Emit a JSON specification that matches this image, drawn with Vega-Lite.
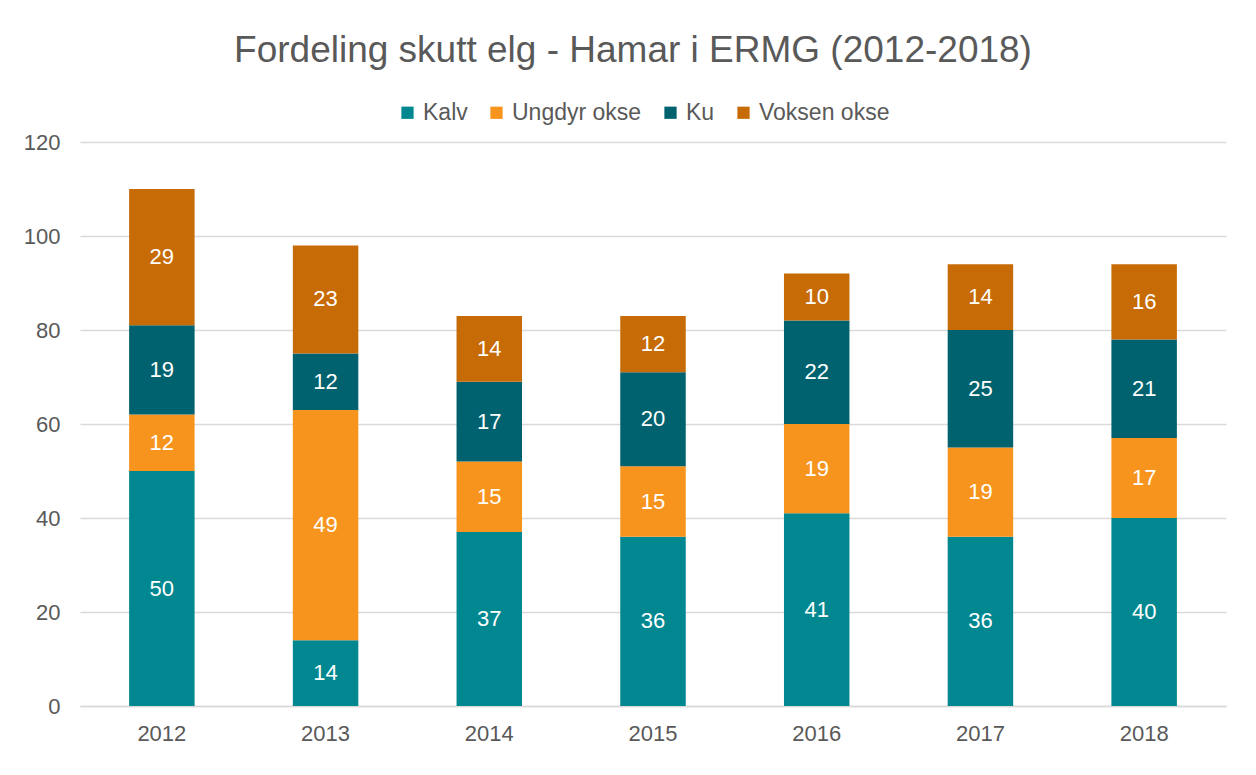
{
  "$schema": "https://vega.github.io/schema/vega-lite/v6.json",
  "autosize": "none",
  "width": 1146,
  "height": 564,
  "padding": {"left": 80, "top": 142, "right": 30, "bottom": 69},
  "background": "white",
  "config": {
    "font": "Liberation Sans",
    "view": {"stroke": null}
  },
  "title": {
    "text": "Fordeling skutt elg - Hamar i ERMG (2012-2018)",
    "fontSize": 37,
    "fontWeight": "normal",
    "color": "#595959",
    "anchor": "middle",
    "dx": -20,
    "offset": 31
  },
  "data": {
    "values": [
      {"year": "2012", "cat": "Kalv", "o": 1, "value": 50},
      {"year": "2012", "cat": "Ungdyr okse", "o": 2, "value": 12},
      {"year": "2012", "cat": "Ku", "o": 3, "value": 19},
      {"year": "2012", "cat": "Voksen okse", "o": 4, "value": 29},
      {"year": "2013", "cat": "Kalv", "o": 1, "value": 14},
      {"year": "2013", "cat": "Ungdyr okse", "o": 2, "value": 49},
      {"year": "2013", "cat": "Ku", "o": 3, "value": 12},
      {"year": "2013", "cat": "Voksen okse", "o": 4, "value": 23},
      {"year": "2014", "cat": "Kalv", "o": 1, "value": 37},
      {"year": "2014", "cat": "Ungdyr okse", "o": 2, "value": 15},
      {"year": "2014", "cat": "Ku", "o": 3, "value": 17},
      {"year": "2014", "cat": "Voksen okse", "o": 4, "value": 14},
      {"year": "2015", "cat": "Kalv", "o": 1, "value": 36},
      {"year": "2015", "cat": "Ungdyr okse", "o": 2, "value": 15},
      {"year": "2015", "cat": "Ku", "o": 3, "value": 20},
      {"year": "2015", "cat": "Voksen okse", "o": 4, "value": 12},
      {"year": "2016", "cat": "Kalv", "o": 1, "value": 41},
      {"year": "2016", "cat": "Ungdyr okse", "o": 2, "value": 19},
      {"year": "2016", "cat": "Ku", "o": 3, "value": 22},
      {"year": "2016", "cat": "Voksen okse", "o": 4, "value": 10},
      {"year": "2017", "cat": "Kalv", "o": 1, "value": 36},
      {"year": "2017", "cat": "Ungdyr okse", "o": 2, "value": 19},
      {"year": "2017", "cat": "Ku", "o": 3, "value": 25},
      {"year": "2017", "cat": "Voksen okse", "o": 4, "value": 14},
      {"year": "2018", "cat": "Kalv", "o": 1, "value": 40},
      {"year": "2018", "cat": "Ungdyr okse", "o": 2, "value": 17},
      {"year": "2018", "cat": "Ku", "o": 3, "value": 21},
      {"year": "2018", "cat": "Voksen okse", "o": 4, "value": 16}
    ]
  },
  "transform": [
    {"stack": "value", "groupby": ["year"], "sort": [{"field": "o", "order": "ascending"}], "as": ["v0", "v1"]},
    {"calculate": "(datum.v0 + datum.v1) / 2", "as": "mid"}
  ],
  "encoding": {
    "x": {
      "field": "year",
      "type": "nominal",
      "scale": {"paddingInner": 0.6, "paddingOuter": 0.3},
      "axis": {
        "title": null,
        "labelAngle": 0,
        "labelFontSize": 22,
        "labelColor": "#595959",
        "labelPadding": 17,
        "domainColor": "#d9d9d9",
        "domainWidth": 1.5,
        "ticks": false,
        "grid": false
      }
    }
  },
  "layer": [
    {
      "mark": {"type": "bar"},
      "encoding": {
        "y": {
          "field": "v0",
          "type": "quantitative",
          "scale": {"domain": [0, 120]},
          "axis": {
            "title": null,
            "values": [0, 20, 40, 60, 80, 100, 120],
            "labelFontSize": 22,
            "labelColor": "#595959",
            "labelPadding": 20,
            "gridColor": "#d9d9d9",
            "gridWidth": 1.5,
            "domain": false,
            "ticks": false
          }
        },
        "y2": {"field": "v1"},
        "color": {
          "field": "cat",
          "type": "nominal",
          "scale": {
            "domain": ["Kalv", "Ungdyr okse", "Ku", "Voksen okse"],
            "range": ["#00878F", "#F7941E", "#00626E", "#C76B06"]
          },
          "legend": {
            "title": null,
            "orient": "none",
            "direction": "horizontal",
            "legendX": 316,
            "legendY": -41,
            "symbolType": "square",
            "symbolSize": 150,
            "symbolOpacity": 1,
            "labelFontSize": 23,
            "labelColor": "#595959",
            "labelOffset": 4,
            "columnPadding": 17
          }
        }
      }
    },
    {
      "mark": {"type": "text", "color": "white", "fontSize": 22, "baseline": "middle"},
      "encoding": {
        "y": {"field": "mid", "type": "quantitative"},
        "text": {"field": "value", "type": "quantitative"}
      }
    }
  ]
}
